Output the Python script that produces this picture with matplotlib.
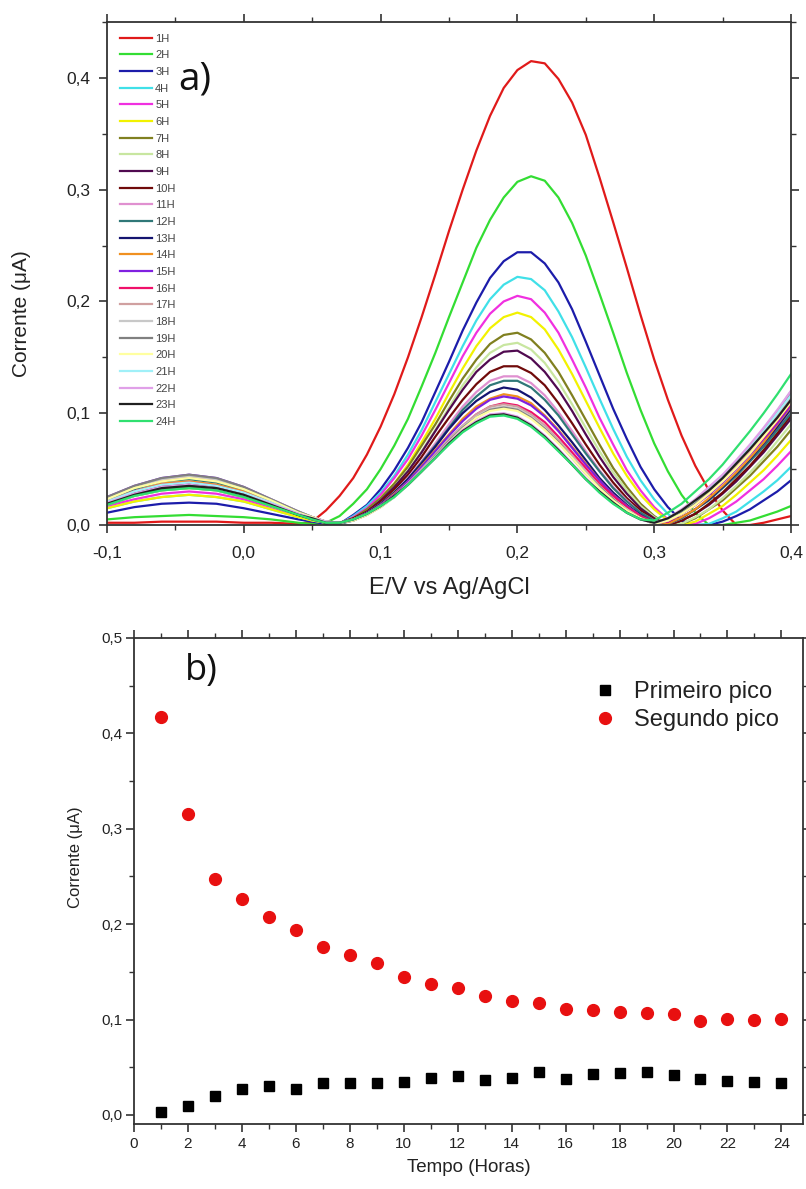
import matplotlib
matplotlib.use("Agg")
import matplotlib.pyplot as plt
from matplotlib.ticker import MultipleLocator, FuncFormatter

plt.rcParams['font.family'] = ['Liberation Sans', 'DejaVu Sans']

# ---------------- data: panel a (DPV curves, current in uA vs potential in V) ----------------
E = [-0.10, -0.08, -0.06, -0.04, -0.02, 0.00, 0.02,
     0.04, 0.05, 0.06, 0.07, 0.08, 0.09, 0.10, 0.11, 0.12, 0.13, 0.14, 0.15, 0.16, 0.17,
     0.18, 0.19, 0.20, 0.21, 0.22, 0.23, 0.24, 0.25, 0.26, 0.27, 0.28, 0.29, 0.30, 0.31,
     0.32, 0.33, 0.34, 0.35, 0.36, 0.37, 0.38, 0.39, 0.40]

h01 = [0.002,0.002,0.003,0.003,0.003,0.002,0.002, 0.001,0.003,0.013,0.026,0.042,0.063,0.088,0.117,0.150,0.186,0.224,0.263,0.300,0.335,0.366,0.391,0.407,0.415,0.413,0.399,0.378,0.349,0.311,0.271,0.230,0.188,0.148,0.112,0.080,0.053,0.031,0.013,0.000,0.000,0.002,0.005,0.008]
h02 = [0.005,0.007,0.008,0.009,0.008,0.007,0.005, 0.002,0.001,0.002,0.008,0.019,0.032,0.050,0.071,0.095,0.124,0.154,0.186,0.217,0.248,0.273,0.293,0.307,0.312,0.308,0.293,0.270,0.241,0.207,0.172,0.136,0.103,0.073,0.048,0.027,0.011,0.000,0.000,0.002,0.004,0.008,0.012,0.017]
h03 = [0.011,0.016,0.019,0.020,0.019,0.015,0.010, 0.005,0.003,0.001,0.001,0.009,0.018,0.032,0.049,0.069,0.092,0.119,0.146,0.174,0.199,0.221,0.236,0.244,0.244,0.234,0.217,0.193,0.164,0.134,0.104,0.077,0.052,0.032,0.016,0.004,0.000,0.000,0.003,0.008,0.014,0.022,0.030,0.040]
h04 = [0.015,0.021,0.025,0.027,0.025,0.021,0.014, 0.007,0.004,0.002,0.001,0.008,0.017,0.029,0.044,0.063,0.085,0.110,0.135,0.160,0.183,0.202,0.215,0.222,0.220,0.210,0.191,0.168,0.141,0.113,0.086,0.061,0.040,0.023,0.010,0.000,0.000,0.001,0.006,0.012,0.021,0.030,0.040,0.052]
h05 = [0.017,0.023,0.028,0.030,0.028,0.023,0.016, 0.008,0.005,0.002,0.001,0.007,0.015,0.027,0.042,0.059,0.080,0.103,0.127,0.151,0.172,0.189,0.200,0.205,0.202,0.190,0.172,0.148,0.123,0.096,0.072,0.049,0.031,0.016,0.005,0.000,0.001,0.006,0.013,0.021,0.031,0.041,0.053,0.066]
h06 = [0.015,0.021,0.025,0.027,0.025,0.021,0.014, 0.007,0.004,0.002,0.001,0.006,0.013,0.024,0.037,0.054,0.074,0.095,0.118,0.140,0.160,0.176,0.186,0.190,0.186,0.175,0.157,0.135,0.111,0.087,0.064,0.044,0.027,0.014,0.004,0.000,0.003,0.010,0.017,0.027,0.038,0.049,0.062,0.076]
h07 = [0.018,0.026,0.031,0.033,0.031,0.025,0.017, 0.009,0.005,0.002,0.001,0.006,0.014,0.024,0.037,0.052,0.071,0.090,0.111,0.131,0.148,0.162,0.170,0.172,0.166,0.154,0.137,0.116,0.094,0.072,0.051,0.034,0.019,0.008,0.000,0.001,0.006,0.014,0.022,0.033,0.044,0.057,0.070,0.085]
h08 = [0.018,0.026,0.031,0.033,0.031,0.025,0.017, 0.009,0.005,0.002,0.001,0.005,0.012,0.022,0.034,0.049,0.066,0.085,0.105,0.125,0.141,0.154,0.161,0.163,0.157,0.145,0.128,0.108,0.087,0.066,0.047,0.031,0.017,0.007,0.000,0.001,0.007,0.014,0.024,0.035,0.047,0.060,0.075,0.090]
h09 = [0.019,0.027,0.032,0.034,0.032,0.026,0.018, 0.009,0.005,0.002,0.001,0.005,0.012,0.022,0.034,0.048,0.065,0.084,0.103,0.121,0.137,0.148,0.155,0.156,0.149,0.137,0.121,0.102,0.081,0.061,0.043,0.028,0.015,0.006,0.000,0.004,0.010,0.018,0.028,0.039,0.052,0.065,0.080,0.095]
h10 = [0.019,0.027,0.033,0.035,0.033,0.027,0.018, 0.009,0.006,0.002,0.002,0.006,0.012,0.021,0.032,0.045,0.061,0.079,0.096,0.112,0.126,0.137,0.142,0.142,0.136,0.125,0.109,0.091,0.072,0.054,0.038,0.024,0.013,0.005,0.000,0.004,0.010,0.019,0.029,0.041,0.053,0.067,0.082,0.098]
h11 = [0.021,0.030,0.037,0.039,0.036,0.030,0.020, 0.011,0.006,0.003,0.001,0.005,0.011,0.019,0.029,0.042,0.057,0.073,0.090,0.106,0.119,0.129,0.133,0.133,0.127,0.116,0.101,0.084,0.066,0.049,0.034,0.022,0.011,0.004,0.001,0.006,0.014,0.023,0.034,0.045,0.058,0.072,0.087,0.103]
h12 = [0.023,0.032,0.039,0.041,0.038,0.031,0.021, 0.011,0.007,0.003,0.001,0.004,0.010,0.018,0.029,0.041,0.056,0.071,0.087,0.103,0.115,0.125,0.129,0.129,0.123,0.112,0.098,0.081,0.064,0.048,0.033,0.021,0.011,0.004,0.001,0.006,0.014,0.022,0.033,0.044,0.057,0.070,0.085,0.100]
h13 = [0.020,0.029,0.035,0.037,0.034,0.028,0.019, 0.010,0.006,0.003,0.002,0.005,0.011,0.019,0.029,0.041,0.055,0.070,0.086,0.100,0.111,0.119,0.123,0.121,0.114,0.103,0.089,0.074,0.058,0.042,0.029,0.018,0.009,0.002,0.001,0.007,0.014,0.023,0.034,0.046,0.059,0.073,0.088,0.104]
h14 = [0.021,0.030,0.037,0.039,0.036,0.030,0.020, 0.011,0.006,0.003,0.002,0.005,0.010,0.018,0.028,0.039,0.053,0.067,0.081,0.095,0.106,0.113,0.117,0.115,0.109,0.098,0.085,0.070,0.055,0.040,0.027,0.017,0.008,0.002,0.001,0.007,0.014,0.024,0.035,0.047,0.060,0.074,0.090,0.106]
h15 = [0.025,0.035,0.042,0.045,0.042,0.034,0.023, 0.012,0.007,0.003,0.002,0.005,0.010,0.018,0.027,0.039,0.052,0.066,0.080,0.093,0.104,0.112,0.115,0.113,0.107,0.097,0.084,0.069,0.054,0.040,0.027,0.017,0.008,0.002,0.003,0.010,0.018,0.027,0.038,0.050,0.063,0.077,0.091,0.107]
h16 = [0.021,0.030,0.036,0.038,0.035,0.029,0.020, 0.010,0.006,0.003,0.002,0.005,0.010,0.017,0.026,0.037,0.049,0.062,0.076,0.088,0.099,0.106,0.109,0.107,0.101,0.092,0.079,0.065,0.051,0.037,0.026,0.016,0.008,0.002,0.003,0.010,0.018,0.028,0.039,0.051,0.064,0.078,0.093,0.109]
h17 = [0.024,0.034,0.040,0.043,0.040,0.033,0.022, 0.012,0.007,0.003,0.002,0.004,0.010,0.017,0.026,0.037,0.050,0.063,0.077,0.089,0.099,0.106,0.108,0.106,0.099,0.089,0.076,0.062,0.048,0.035,0.023,0.014,0.006,0.001,0.004,0.010,0.019,0.029,0.041,0.053,0.067,0.082,0.098,0.115]
h18 = [0.024,0.034,0.041,0.044,0.041,0.033,0.023, 0.012,0.007,0.003,0.002,0.004,0.009,0.017,0.025,0.036,0.049,0.062,0.075,0.088,0.097,0.104,0.106,0.104,0.097,0.087,0.074,0.061,0.047,0.034,0.023,0.014,0.006,0.001,0.004,0.011,0.020,0.030,0.042,0.056,0.070,0.086,0.102,0.120]
h19 = [0.025,0.035,0.042,0.045,0.042,0.034,0.023, 0.012,0.007,0.003,0.002,0.004,0.009,0.016,0.025,0.036,0.048,0.062,0.075,0.087,0.096,0.103,0.105,0.103,0.096,0.086,0.074,0.060,0.046,0.034,0.023,0.013,0.006,0.001,0.004,0.011,0.019,0.030,0.042,0.055,0.069,0.084,0.101,0.118]
h20 = [0.023,0.033,0.039,0.042,0.039,0.032,0.022, 0.011,0.007,0.003,0.002,0.004,0.009,0.016,0.025,0.036,0.048,0.061,0.074,0.086,0.096,0.102,0.104,0.102,0.095,0.085,0.073,0.060,0.046,0.033,0.022,0.013,0.006,0.001,0.004,0.010,0.018,0.028,0.039,0.051,0.064,0.079,0.094,0.110]
h21 = [0.021,0.030,0.036,0.038,0.035,0.029,0.020, 0.010,0.006,0.003,0.002,0.005,0.010,0.017,0.025,0.036,0.048,0.060,0.072,0.083,0.091,0.097,0.098,0.095,0.088,0.078,0.066,0.054,0.041,0.029,0.019,0.011,0.005,0.002,0.006,0.013,0.022,0.033,0.044,0.056,0.070,0.084,0.100,0.116]
h22 = [0.020,0.028,0.034,0.036,0.033,0.027,0.019, 0.010,0.006,0.003,0.002,0.005,0.010,0.017,0.026,0.037,0.049,0.061,0.074,0.085,0.093,0.099,0.100,0.097,0.090,0.080,0.068,0.055,0.042,0.030,0.020,0.011,0.005,0.002,0.006,0.014,0.023,0.034,0.045,0.058,0.072,0.087,0.103,0.120]
h23 = [0.019,0.027,0.033,0.035,0.033,0.027,0.018, 0.009,0.006,0.002,0.002,0.005,0.010,0.017,0.026,0.036,0.048,0.060,0.073,0.084,0.092,0.098,0.099,0.096,0.089,0.079,0.067,0.054,0.041,0.030,0.020,0.011,0.005,0.002,0.006,0.013,0.022,0.031,0.042,0.055,0.068,0.082,0.096,0.112]
h24 = [0.018,0.026,0.031,0.033,0.031,0.025,0.017, 0.009,0.005,0.002,0.002,0.005,0.010,0.017,0.025,0.036,0.048,0.060,0.072,0.083,0.091,0.097,0.098,0.095,0.088,0.078,0.066,0.054,0.041,0.029,0.019,0.011,0.005,0.004,0.011,0.019,0.030,0.041,0.054,0.069,0.084,0.100,0.117,0.135]

curve_labels = [f"{i}H" for i in range(1, 25)]
curve_colors = ['#e01a1a', '#33dd33', '#1c1caa', '#40e0e8', '#f030e0', '#f2f200',
                '#808020', '#c8e6a0', '#500a50', '#700a0a', '#e090d0', '#307878',
                '#141470', '#f09020', '#8020e0', '#f0106a', '#d0a0a0', '#c8c8c8',
                '#808080', '#ffffa0', '#a0f0f8', '#e0a0e8', '#202020', '#30e070']

# ---------------- data: panel b (peak currents vs time) ----------------
hours = list(range(1, 25))
primeiro = [0.003, 0.009, 0.020, 0.027, 0.030, 0.027, 0.033, 0.033, 0.034, 0.035, 0.039, 0.041,
            0.037, 0.039, 0.045, 0.038, 0.043, 0.044, 0.045, 0.042, 0.038, 0.036, 0.035, 0.033]
segundo = [0.417, 0.315, 0.247, 0.226, 0.208, 0.194, 0.176, 0.168, 0.159, 0.145, 0.137, 0.133,
           0.125, 0.119, 0.117, 0.111, 0.110, 0.108, 0.107, 0.106, 0.099, 0.101, 0.100, 0.101]

curves = [h01, h02, h03, h04, h05, h06, h07, h08, h09, h10, h11, h12,
          h13, h14, h15, h16, h17, h18, h19, h20, h21, h22, h23, h24]

W, H = 806, 1189
fig = plt.figure(figsize=(W / 100, H / 100), dpi=100)
fig.patch.set_facecolor('white')

comma = FuncFormatter(lambda v, p: f"{v:.1f}".replace('.', ','))
spine_col = '#333333'


def style_axes(ax, lab_size):
    for s in ax.spines.values():
        s.set_color(spine_col)
        s.set_linewidth(1.3)
    ax.tick_params(which='both', direction='out', top=True, right=True,
                   labeltop=False, labelright=False, colors=spine_col,
                   labelcolor='#222222', labelsize=lab_size)
    ax.tick_params(which='major', length=6, width=1.2)
    ax.tick_params(which='minor', length=3.5, width=1.0)


# ---------------- panel a ----------------
axA = fig.add_axes([107 / W, 1 - 525 / H, (791 - 107) / W, (525 - 22) / H])
lines = []
for vals, lab, col in zip(curves, curve_labels, curve_colors):
    ln, = axA.plot(E, vals, color=col, lw=1.6, label=lab, solid_joinstyle='round')
    lines.append(ln)
axA.set_xlim(-0.1, 0.4)
axA.set_ylim(0.0, 0.45)
axA.xaxis.set_major_locator(MultipleLocator(0.1))
axA.xaxis.set_minor_locator(MultipleLocator(0.05))
axA.yaxis.set_major_locator(MultipleLocator(0.1))
axA.yaxis.set_minor_locator(MultipleLocator(0.05))
axA.xaxis.set_major_formatter(comma)
axA.yaxis.set_major_formatter(comma)
style_axes(axA, 12.5)
axA.tick_params(axis='x', pad=9)
axA.tick_params(axis='y', pad=6)
axA.set_xlabel('E/V vs Ag/AgCl', fontsize=17, color='#222222')
axA.xaxis.set_label_coords(0.5, -0.125)
axA.xaxis.label.set_va('center')
axA.set_ylabel('Corrente (μA)', fontsize=15, color='#222222')
axA.yaxis.set_label_coords(-0.125, 0.42)
axA.yaxis.label.set_va('center')
axA.text(-0.048, 0.399, 'a)', fontsize=28, va='center', ha='left', color='#111111',
         family=['Open Sans', 'DejaVu Sans'])
legA = axA.legend(handles=lines, loc='upper left', bbox_to_anchor=(0.019, 0.977),
                  frameon=False, fontsize=8, handlelength=2.9, handletextpad=0.27,
                  labelspacing=0.6, borderaxespad=0, borderpad=0)
for t in legA.get_texts():
    t.set_color('#444444')

# ---------------- panel b ----------------
axB = fig.add_axes([134 / W, 1 - 1124 / H, (803 - 134) / W, (1124 - 638) / H])
axB.plot(hours, primeiro, linestyle='none', marker='s', ms=7.5, color='black',
         label='Primeiro pico')
axB.plot(hours, segundo, linestyle='none', marker='o', ms=8.5, color='#e81010',
         markeredgecolor='#e81010', label='Segundo pico')
axB.set_xlim(0, 24.8)
axB.set_ylim(-0.0095, 0.5)
axB.xaxis.set_major_locator(MultipleLocator(2))
axB.xaxis.set_minor_locator(MultipleLocator(1))
axB.yaxis.set_major_locator(MultipleLocator(0.1))
axB.yaxis.set_minor_locator(MultipleLocator(0.05))
axB.yaxis.set_major_formatter(comma)
style_axes(axB, 11)
axB.tick_params(axis='x', pad=3)
axB.tick_params(axis='y', pad=2)
axB.set_xlabel('Tempo (Horas)', fontsize=13.5, color='#222222')
axB.xaxis.set_label_coords(0.5, -0.09)
axB.xaxis.label.set_va('center')
axB.set_ylabel('Corrente (μA)', fontsize=12, color='#222222')
axB.yaxis.set_label_coords(-0.088, 0.55)
axB.yaxis.label.set_va('center')
axB.text(1.9, 0.465, 'b)', fontsize=26, va='center', ha='left', color='#111111',
         family=['Open Sans', 'DejaVu Sans'])
legB = axB.legend(loc='upper left', bbox_to_anchor=(0.686, 0.911), frameon=False,
                  fontsize=17, handlelength=1.0, handletextpad=0.75, labelspacing=0.25,
                  borderaxespad=0, borderpad=0)
for t in legB.get_texts():
    t.set_color('#222222')

fig.savefig('out.png', dpi=100)
